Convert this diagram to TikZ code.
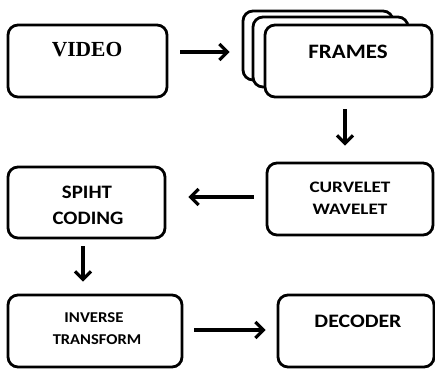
\documentclass[tikz,border=0pt]{standalone}
\usepackage{fontspec}
\setmainfont{Carlito}
\newfontfamily\serifbf{Liberation Serif}
\usetikzlibrary{arrows.meta,calc}
\tikzset{
  box/.style={draw=black, line width=2.8pt, rounded corners=10pt, fill=white, inner sep=0pt},
  txt/.style={inner sep=0pt, font=\bfseries, text=black},
  arr/.style={line width=3.2pt, -{Straight Barb[length=8pt,width=16pt]}}
}
\newcommand{\fs}[2]{\fontsize{#1}{#1}\selectfont #2}
\begin{document}
\begin{tikzpicture}[x=1pt,y=-1pt]
\useasboundingbox (0,0) rectangle (435,369);
% boxes
\node[box, minimum width=159pt, minimum height=72pt] (video) at (87.5,61) {};
\node[box, minimum width=150pt, minimum height=69pt] (frames3) at (318,45.5) {};
\node[box, minimum width=155pt, minimum height=70pt] (frames2) at (330.5,52) {};
\node[box, minimum width=167pt, minimum height=72pt] (frames) at (348.5,61) {};
\node[box, minimum width=166pt, minimum height=72pt] (curv) at (350,199) {};
\node[box, minimum width=157pt, minimum height=71pt] (spiht) at (86.5,202.5) {};
\node[box, minimum width=174pt, minimum height=72pt] (inv) at (95,331) {};
\node[box, minimum width=156pt, minimum height=72pt] (dec) at (356,331) {};
% texts
\node[txt, font=\serifbf\bfseries] (videot) at (87,50) {\fs{21.5}{VIDEO}};
\node[txt] (framest) at (348,51.5) {\fs{20.5}{\scalebox{1.12}[1]{FRAMES}}};
\node[txt] (curvt) at (350,187) {\fs{16}{\scalebox{1.2}[1]{CURVELET}}};
\node[txt] (wavet) at (350,209) {\fs{16}{\scalebox{1.2}[1]{WAVELET}}};
\node[txt] (spihtt) at (87,192) {\fs{19}{\scalebox{1.1}[1]{SPIHT}}};
\node[txt] (codingt) at (88,218) {\fs{19}{\scalebox{1.1}[1]{CODING}}};
\node[txt] (invt) at (94,318) {\fs{15}{\scalebox{1.12}[1]{INVERSE}}};
\node[txt] (transt) at (97,340) {\fs{15}{\scalebox{1.1}[1]{TRANSFORM}}};
\node[txt] (dect) at (358,321) {\fs{19}{\scalebox{1.15}[1]{DECODER}}};
% connectors
\draw[arr] ($(video.east)+(12,-9)$) -- ($(frames3.west)+(-12,6.5)$);
\draw[arr] ($(frames.south)+(-3.5,11)$) -- ($(curv.north)+(-5,-16)$);
\draw[arr] ($(curv.west)+(-12,-2)$) -- ($(spiht.east)+(22,-5.5)$);
\draw[arr] ($(spiht.south)+(-3.5,7)$) -- ($(inv.north)+(-12,-12)$);
\draw[arr] ($(inv.east)+(11,-1)$) -- ($(dec.west)+(-11,-1)$);
\end{tikzpicture}
\end{document}
